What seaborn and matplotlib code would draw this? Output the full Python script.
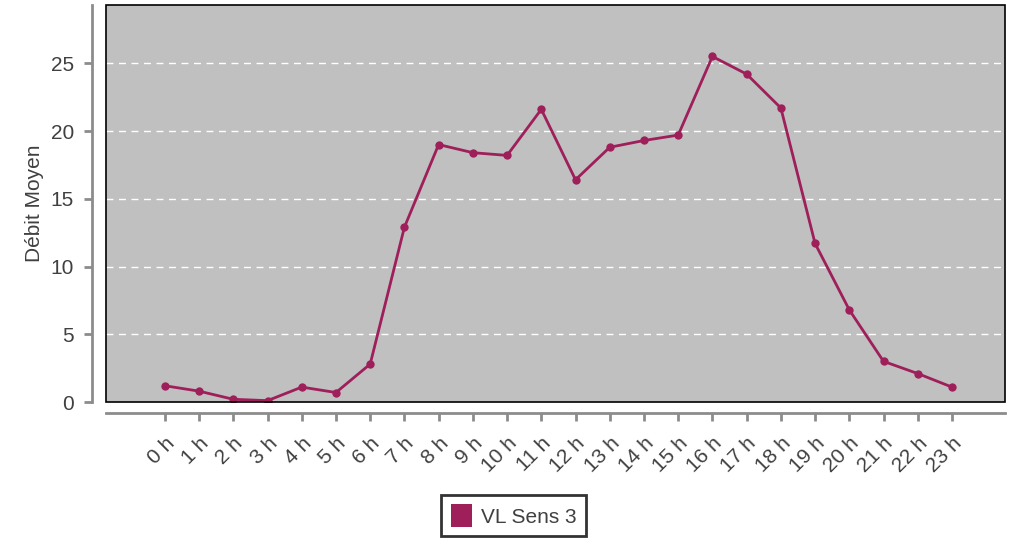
import matplotlib
matplotlib.use('Agg')
import matplotlib.pyplot as plt
import seaborn as sns
import numpy as np
import pandas as pd
from matplotlib.patches import Rectangle, Patch

# data
hours = list(range(24))
hour_labels = [str(h) + ' h' for h in hours]
debit = [1.2, 0.8, 0.2, 0.1, 1.1, 0.7, 2.8, 12.9, 19.0, 18.4, 18.2, 21.6,
         16.4, 18.8, 19.3, 19.7, 25.5, 24.2, 21.7, 11.7, 6.8, 3.0, 2.1, 1.1]
series_name = 'VL Sens 3'

line_color = '#9e1f5a'
text_color = '#404040'
spine_color = '#8c8c8c'

df = pd.DataFrame({'hour': hours, 'debit': debit})

sns.set_style('white')
plt.rcParams['font.family'] = ['Liberation Sans', 'DejaVu Sans']
fig = plt.figure(figsize = (10.15, 5.4), dpi = 100)
ax = fig.add_axes([106 / 1015, 1 - 402 / 540, (1005 - 106) / 1015, (402 - 5) / 540])
ax.set_facecolor('#c0c0c0')

sns.lineplot(data = df, x = 'hour', y = 'debit', ax = ax, color = line_color,
             linewidth = 2, marker = 'o', markersize = 6, markeredgewidth = 0)

ax.set_xlim(-1.72, 24.55)
ax.set_ylim(0, 29.3)
ax.set_yticks([0, 5, 10, 15, 20, 25])
ax.set_xticks(hours)
ax.set_xticklabels(hour_labels)

# dashed white grid lines
for yv in [5, 10, 15, 20, 25]:
    ax.axhline(yv, color = 'white', linestyle = (0, (5, 4)), linewidth = 1, zorder = 0.5)

# black frame around the plotting area
ax.add_patch(Rectangle((0, 0), 1, 1, transform = ax.transAxes, fill = False,
                       edgecolor = 'black', linewidth = 1.2, zorder = 5, clip_on = False))

# offset grey axis lines
for side in ['top', 'right']:
    ax.spines[side].set_visible(False)
ax.spines['left'].set_position(('outward', 10))
ax.spines['bottom'].set_position(('outward', 8))
for side in ['left', 'bottom']:
    ax.spines[side].set_color(spine_color)
    ax.spines[side].set_linewidth(2)

ax.tick_params(axis = 'both', colors = spine_color, labelcolor = text_color,
               labelsize = 15, length = 6, width = 2, direction = 'out',
               left = True, bottom = True)
ax.tick_params(axis = 'x', pad = 9)
ax.tick_params(axis = 'y', pad = 7)
plt.setp(ax.get_xticklabels(), rotation = 45, ha = 'right', rotation_mode = 'anchor')
ax.set_xlabel('')
ax.set_ylabel('Débit Moyen', fontsize = 15, color = text_color, labelpad = 5)

handle = Patch(facecolor = line_color, edgecolor = 'none', label = series_name)
leg = fig.legend(handles = [handle], loc = 'upper center', bbox_to_anchor = (0.506, 1 - 495 / 540),
                 frameon = True, fancybox = False, edgecolor = 'black', fontsize = 15,
                 handlelength = 1.0, handleheight = 1.3, borderpad = 0.45, handletextpad = 0.45,
                 borderaxespad = 0)
leg.get_frame().set_linewidth(2)
for t in leg.get_texts():
    t.set_color(text_color)

plt.savefig('out.png', dpi = 100)
